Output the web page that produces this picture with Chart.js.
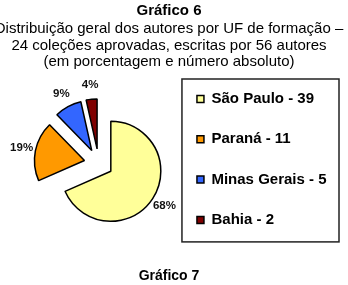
<!DOCTYPE html>
<html lang="pt-BR">
<head>
<meta charset="utf-8">
<title>Gráfico 6</title>
<script src="https://cdn.jsdelivr.net/npm/chart.js@4.4.0/dist/chart.umd.min.js"></script>
<style>
  html, body { margin: 0; padding: 0; background: #fff; }
  body {
    width: 348px; height: 285px; position: relative; overflow: hidden;
    font-family: "Liberation Sans", Arial, sans-serif; color: #000;
  }
  canvas { position: absolute; left: 0; top: 0; }
  .linha {
    position: absolute; left: -31px; width: 400px; text-align: center;
    font-size: 15px; line-height: 17px; white-space: nowrap;
  }
  .negrito { font-weight: bold; }
  #prox { top: 267px; font-size: 14px; line-height: 16px; }
</style>
</head>
<body>
<canvas id="grafico-uf" width="348" height="285"></canvas>
<div class="linha negrito" style="top:0.5px">Gráfico 6</div>
<div class="linha" style="top:18.5px">Distribuição geral dos autores por UF de formação –</div>
<div class="linha" style="top:35.5px">24 coleções aprovadas, escritas por 56 autores</div>
<div class="linha" style="top:51.5px">(em porcentagem e número absoluto)</div>
<div class="linha negrito" id="prox">Gráfico 7</div>

<script>
// Distribuição dos autores por UF de formação
const UFS = ["São Paulo", "Paraná", "Minas Gerais", "Bahia"];
const AUTORES = [39, 11, 5, 2];

const CORES = ["#FFFF99", "#FF9900", "#3366FF", "#800000"];
const FONTE = "'Liberation Sans', Arial, sans-serif";
const EXPLODE = 14.5; // deslocamento das fatias (px)

const total = AUTORES.reduce((a, b) => a + b, 0);

// desloca cada fatia ao longo do seu ângulo médio, sem mudar o raio
const explodePlugin = {
  id: "explode",
  afterDatasetUpdate(chart) {
    chart.getDatasetMeta(0).data.forEach((arc) => {
      const mid = (arc.startAngle + arc.endAngle) / 2;
      arc.x += Math.cos(mid) * EXPLODE;
      arc.y += Math.sin(mid) * EXPLODE;
    });
  },
};

// rótulos de porcentagem fora das fatias
const percentPlugin = {
  id: "percent",
  afterDatasetsDraw(chart) {
    const { ctx } = chart;
    ctx.save();
    ctx.font = `bold 11.5px ${FONTE}`;
    ctx.fillStyle = "#111";
    ctx.textAlign = "center";
    ctx.textBaseline = "middle";
    chart.getDatasetMeta(0).data.forEach((arc, i) => {
      const mid = (arc.startAngle + arc.endAngle) / 2;
      const r = arc.outerRadius + 14;
      const pct = Math.round((AUTORES[i] / total) * 100);
      ctx.fillText(`${pct}%`, arc.x + Math.cos(mid) * r, arc.y + Math.sin(mid) * r);
    });
    ctx.restore();
  },
};

// moldura da legenda
const legendFramePlugin = {
  id: "legendFrame",
  afterDraw(chart) {
    const lg = chart.legend;
    const boxes = lg && lg.legendHitBoxes;
    if (!boxes || !boxes.length) return;
    const left = lg.left + 10.3;
    const right = lg.right + 2.5;
    const top = Math.min(...boxes.map((b) => b.top)) - 12.5;
    const bottom = Math.max(...boxes.map((b) => b.top + b.height)) + 14.5;
    const { ctx } = chart;
    ctx.save();
    ctx.strokeStyle = "#222";
    ctx.lineWidth = 1.5;
    ctx.strokeRect(left, top, right - left, bottom - top);
    ctx.restore();
  },
};

new Chart(document.getElementById("grafico-uf"), {
  type: "pie",
  data: {
    labels: UFS.map((uf, i) => `${uf} - ${AUTORES[i]}`),
    datasets: [
      {
        data: AUTORES,
        backgroundColor: CORES,
        borderColor: "#000",
        borderWidth: 1.5,
      },
    ],
  },
  options: {
    responsive: false,
    animation: false,
    devicePixelRatio: 1,
    radius: 50,
    layout: {
      padding: { left: 25.7, right: 11.5, top: 66.2, bottom: 24.6 },
    },
    plugins: {
      title: { display: false },
      tooltip: { enabled: false },
      legend: {
        position: "right",
        align: "start",
        maxWidth: 220,
        labels: {
          boxWidth: 7,
          boxHeight: 7,
          padding: 25.3,
          color: "#000",
          font: { family: FONTE, size: 15, weight: "bold" },
        },
      },
    },
  },
  plugins: [explodePlugin, percentPlugin, legendFramePlugin],
});
</script>
</body>
</html>
